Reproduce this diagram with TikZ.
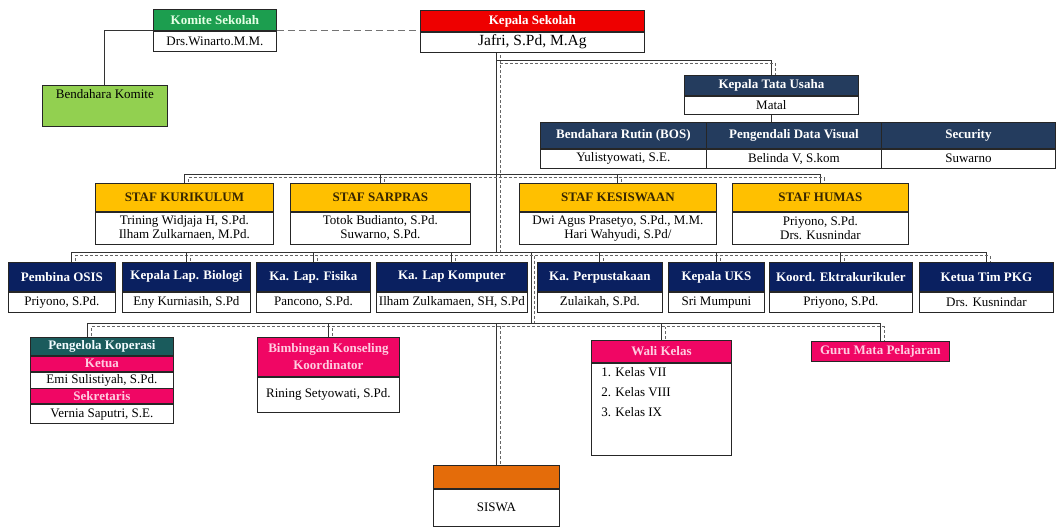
\documentclass[tikz,border=0pt]{standalone}
\usepackage{fontspec}
\setmainfont{Liberation Serif}
\usetikzlibrary{backgrounds}

\definecolor{komitegreen}{RGB}{28,158,79}
\definecolor{komitelight}{RGB}{146,208,80}
\definecolor{ksred}{RGB}{238,0,0}
\definecolor{tuslate}{RGB}{36,60,94}
\definecolor{stafgold}{RGB}{255,192,0}
\definecolor{stafbrown}{RGB}{55,38,0}
\definecolor{unitnavy}{RGB}{10,32,96}
\definecolor{kopteal}{RGB}{26,91,92}
\definecolor{pinkred}{RGB}{240,6,100}
\definecolor{pinktext}{RGB}{255,205,225}
\definecolor{siswaorange}{RGB}{228,108,10}

\tikzset{
  box/.style={draw=black!85, line width=0.8pt, inner sep=1pt, align=center,
    font=\fontsize{13}{14}\selectfont},
  head/.style={box, font=\fontsize{13}{14}\selectfont\bfseries, text=white},
  body/.style={box, fill=white},
  komitehead/.style={head, fill=komitegreen, text=green!10},
  kshead/.style={head, fill=ksred},
  tuhead/.style={head, fill=tuslate},
  stafhead/.style={head, fill=stafgold, text=stafbrown},
  unithead/.style={head, fill=unitnavy},
  kophead/.style={head, fill=kopteal, text=cyan!5},
  pinkhead/.style={head, fill=pinkred, text=pinktext},
  siswahead/.style={head, fill=siswaorange},
  plainlink/.style={draw=black!80, line width=0.9pt},
  link/.style={plainlink, postaction={draw=black!60, line width=0.7pt,
    dash pattern=on 3pt off 2pt, transform canvas={xshift=3.5pt, yshift=-3.5pt}}},
  dashlink/.style={draw=black!55, line width=1pt, dash pattern=on 7pt off 4pt},
}

% header box with its body box hanging below it
\newcommand{\unitbox}[9]{
  \node[#7, anchor=north west, minimum width=#4pt, minimum height=#5pt] (#1) at (#2,#3) {#8};
  \node[body, anchor=north, minimum width=#4pt, minimum height=#6pt] (#1b) at (#1.south) {#9};
}

\begin{document}
\begin{tikzpicture}[x=1pt, y=-1pt]
  \useasboundingbox (0,0) rectangle (1058,527);

  % top
  \unitbox{komite}{153}{9}{123}{21}{20}{komitehead}{Komite Sekolah}{Drs.Winarto.M.M.}
  \unitbox{ks}{420}{10}{224}{21}{20}{kshead}{Kepala Sekolah}{\fontsize{15.5}{16}\selectfont Jafri, S.Pd, M.Ag}
  \node[box, fill=komitelight, anchor=north west, minimum width=125pt, minimum height=41pt] (bkomite) at (42,85)
    {\parbox[c][37pt][t]{120pt}{\centering\vspace{2pt}Bendahara Komite}};

  % tata usaha
  \unitbox{ktu}{684}{75}{174}{20}{18}{tuhead}{Kepala Tata Usaha}{Matal}
  \unitbox{bos}{540}{122}{166}{26}{19}{tuhead}{Bendahara Rutin (BOS)}{Yulistyowati, S.E.}
  \unitbox{pdv}{706}{122}{175}{26}{19}{tuhead}{Pengendali Data Visual}{Belinda V, S.kom}
  \unitbox{security}{881}{122}{174}{26}{19}{tuhead}{Security}{Suwarno}

  % staf
  \unitbox{kurikulum}{95}{183}{178}{28}{32}{stafhead}{STAF KURIKULUM}{Trining Widjaja H, S.Pd.\\ Ilham Zulkarnaen, M.Pd.}
  \unitbox{sarpras}{290}{183}{180}{28}{32}{stafhead}{STAF SARPRAS}{Totok Budianto, S.Pd.\\ Suwarno, S.Pd.}
  \unitbox{kesiswaan}{519}{183}{197}{28}{32}{stafhead}{STAF KESISWAAN}{Dwi Agus Prasetyo, S.Pd., M.M.\\ Hari Wahyudi, S.Pd/}
  \unitbox{humas}{732}{183}{176}{28}{32}{stafhead}{STAF HUMAS}{Priyono, S.Pd.\\ Drs. Kusnindar}

  % units
  \foreach \n/\x/\w/\h/\b in {
      osis/8/107/{Pembina OSIS}/{Priyono, S.Pd.},
      biologi/122/128/{Kepala Lap. Biologi}/{Eny Kurniasih, S.Pd},
      fisika/256/114/{Ka. Lap. Fisika}/{Pancono, S.Pd.},
      komputer/376/151/{Ka. Lap Komputer}/{Ilham Zulkamaen, SH, S.Pd},
      perpus/537/125/{Ka. Perpustakaan}/{Zulaikah, S.Pd.},
      uks/668/96/{Kepala UKS}/{Sri Mumpuni},
      koord/769/143/{Koord. Ektrakurikuler}/{Priyono, S.Pd.},
      pkg/919/134/{Ketua Tim PKG}/{Drs. Kusnindar}}
    {\unitbox{\n}{\x}{262}{\w}{29}{20}{unithead}{\h}{\b}}

  % koperasi
  \node[kophead, anchor=north west, minimum width=143pt, minimum height=18pt] (kop) at (30,337) {Pengelola Koperasi};
  \node[pinkhead, anchor=north, minimum width=143pt, minimum height=15pt] (kopketua) at (kop.south) {Ketua};
  \node[body, anchor=north, minimum width=143pt, minimum height=16pt] (kopketuab) at (kopketua.south) {Emi Sulistiyah, S.Pd.};
  \node[pinkhead, anchor=north, minimum width=143pt, minimum height=15pt] (kopsek) at (kopketuab.south) {Sekretaris};
  \node[body, anchor=north, minimum width=143pt, minimum height=19pt] (kopsekb) at (kopsek.south) {Vernia Saputri, S.E.};

  \unitbox{bk}{257}{337}{142}{39}{35}{pinkhead}{Bimbingan Konseling\\[3pt] Koordinator}{Rining Setyowati, S.Pd.}
  \unitbox{wali}{591}{340}{140}{22}{92}{pinkhead}{Wali Kelas}
    {\begin{minipage}[c][88pt][t]{120pt}\vspace{2pt}1. Kelas VII\\[6pt] 2. Kelas VIII\\[6pt] 3. Kelas IX\end{minipage}}
  \node[pinkhead, anchor=north west, minimum width=138pt, minimum height=20pt] (guru) at (811,341) {Guru Mata Pelajaran};
  \unitbox{siswa}{433}{465}{126}{23}{37}{siswahead}{}{SISWA}

  \begin{scope}[on background layer]
    \fill[white] (0,0) rectangle (1058,527);
    \coordinate (busA) at (0,60);
    \coordinate (busB) at (0,174);
    \coordinate (busC) at (0,252);
    \coordinate (busD) at (0,323);
    \coordinate (gap) at (531,0);

    \draw[dashlink] (komite.south east) -- (komite.south east -| ks.west);
    \draw[plainlink] (komite.south west) -| (bkomite.north);

    % main line down to siswa
    \draw[link] (ks.south -| siswa.north) -- (busC -| siswa.north) -- (busC -| gap)
      -- (busD -| gap) -- (busD -| siswa.north) -- (siswa.north);
    \draw[link] (busA -| siswa.north) -| (ktu.north);
    \draw[plainlink] (ktu.south) -- (ktu.south |- pdv.north);

    \draw[link] (kurikulum.north) |- (busB -| humas.north) -- (humas.north);
    \foreach \n in {sarpras,kesiswaan}
      \draw[link] (\n.north) -- (busB -| \n.north);

    \draw[link] ([xshift=10pt]osis.north) |- (busC -| pkg.north) -- (pkg.north);
    \foreach \n in {biologi,fisika,komputer,perpus,uks,koord}
      \draw[link] (\n.north) -- (busC -| \n.north);

    \draw[link] ([xshift=-14pt]kop.north) |- (busD -| guru.north) -- (guru.north);
    \foreach \n in {bk,wali}
      \draw[link] (\n.north) -- (busD -| \n.north);
  \end{scope}
\end{tikzpicture}
\end{document}
